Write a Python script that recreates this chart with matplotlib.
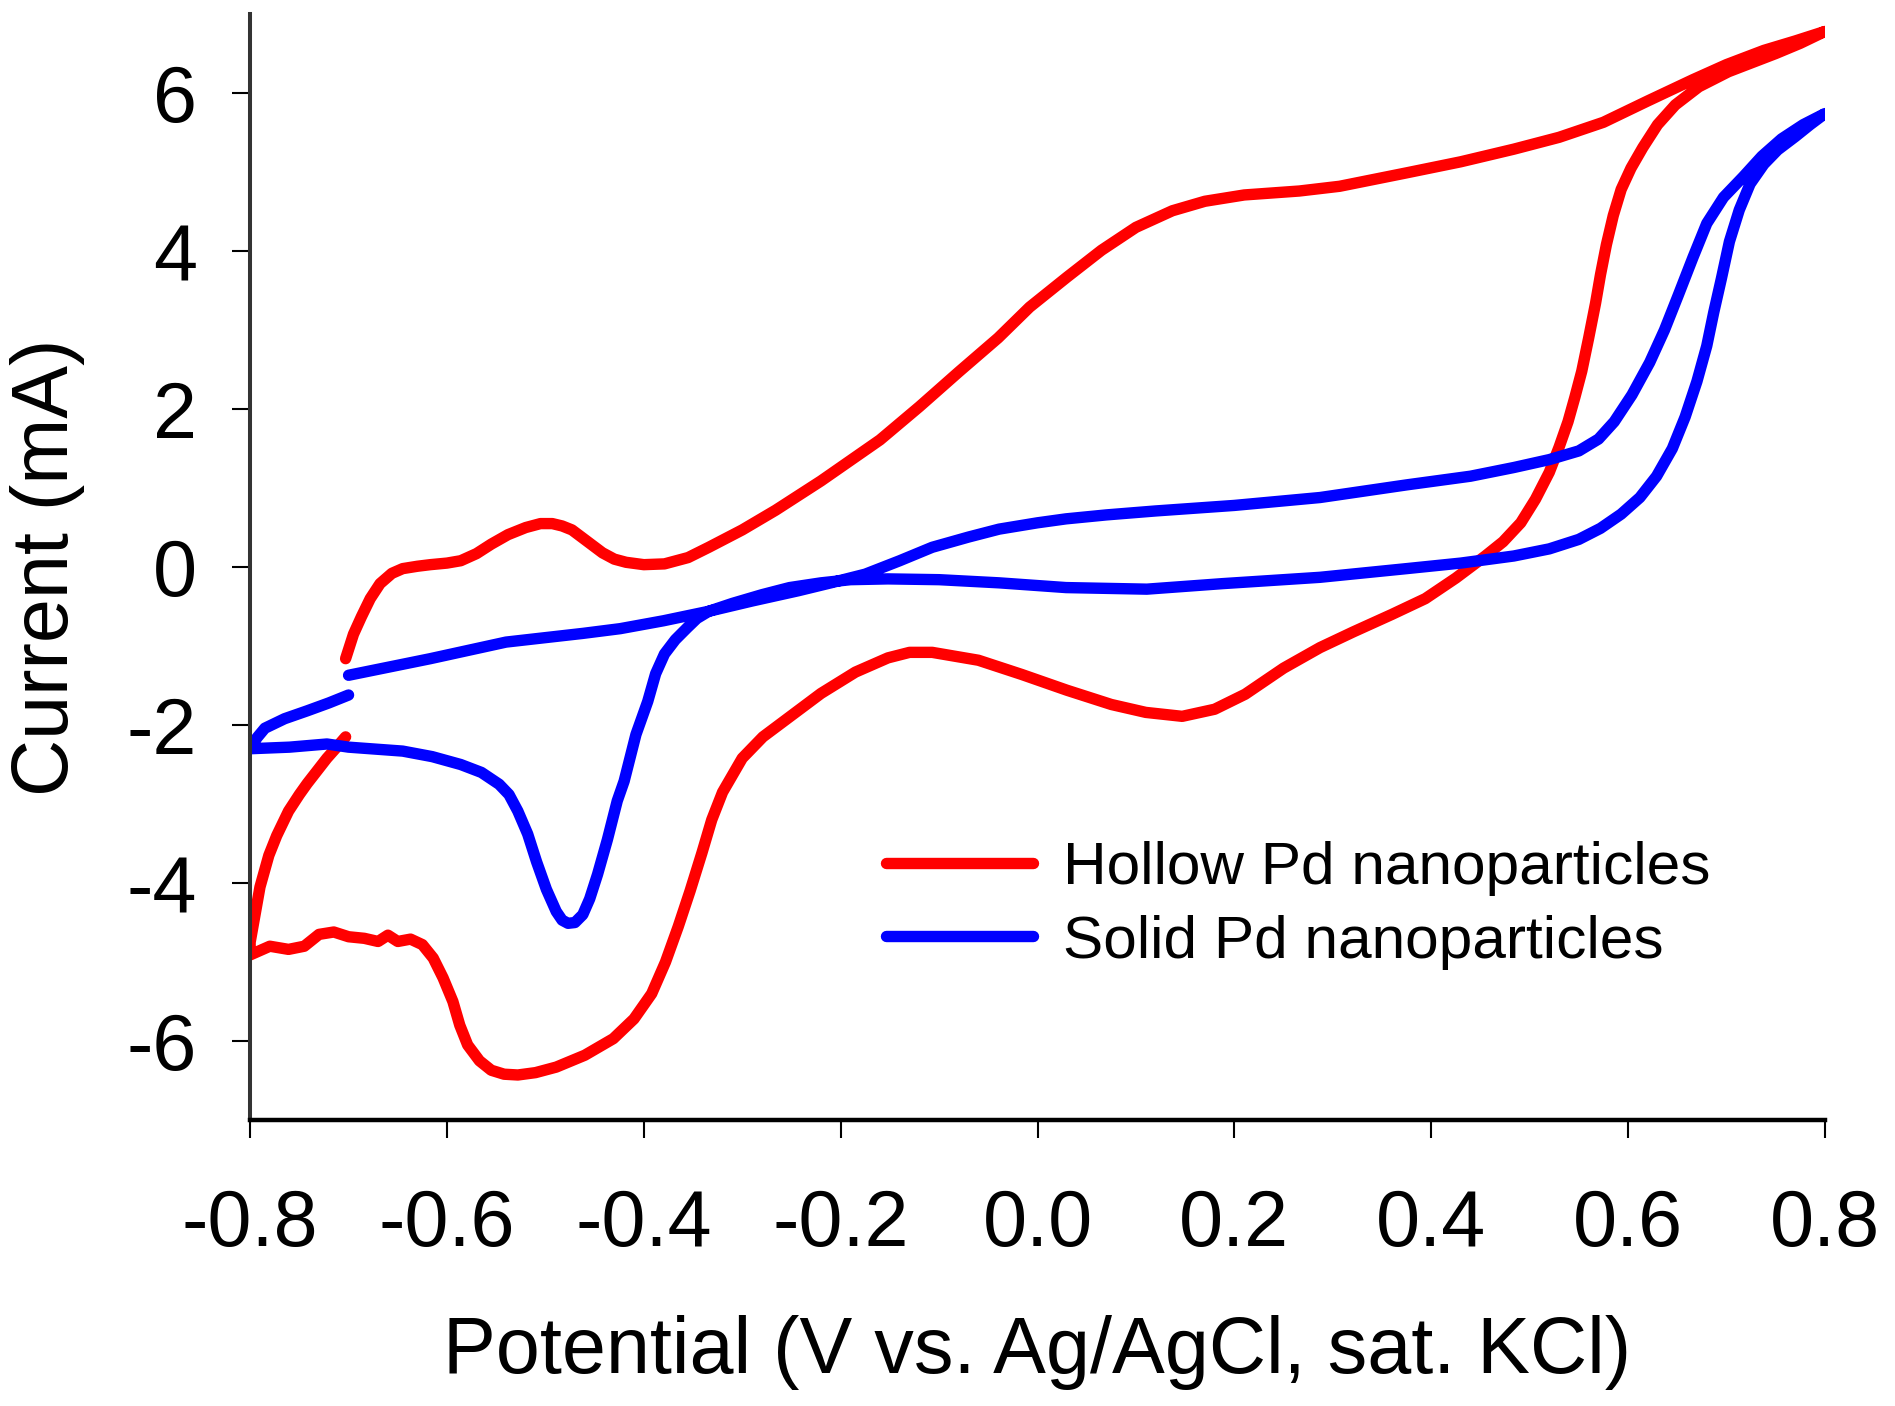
import matplotlib
matplotlib.use("Agg")
import matplotlib.pyplot as plt

plt.rcParams['font.family'] = ['Liberation Sans', 'DejaVu Sans']
plt.rcParams['axes.unicode_minus'] = False

# Hollow Pd nanoparticles: potential (V) and current (mA), in scan order
hollow_v = [-0.703, -0.695, -0.687, -0.678, -0.668, -0.656, -0.645, -0.630, -0.617, -0.600,
            -0.586, -0.570, -0.555, -0.538, -0.520, -0.505, -0.493, -0.483, -0.473, -0.458,
            -0.442, -0.430, -0.418, -0.400, -0.379, -0.355, -0.334, -0.300, -0.266, -0.220,
            -0.160, -0.120, -0.080, -0.040, -0.008, 0.030, 0.065, 0.100, 0.137, 0.170,
            0.210, 0.266, 0.307, 0.375, 0.430, 0.484, 0.530, 0.575, 0.620, 0.666,
            0.700, 0.738, 0.770, 0.800,
            0.775, 0.750, 0.725, 0.702, 0.672, 0.648, 0.630, 0.615, 0.603, 0.593,
            0.585, 0.578, 0.572, 0.567, 0.560, 0.553, 0.546, 0.539, 0.530, 0.520,
            0.506, 0.491, 0.473, 0.455, 0.425, 0.394, 0.360, 0.321, 0.287, 0.250,
            0.211, 0.180, 0.147, 0.110, 0.075, 0.030, -0.016, -0.060, -0.107, -0.130,
            -0.152, -0.185, -0.220, -0.250, -0.279, -0.300, -0.320, -0.331, -0.341, -0.353,
            -0.365, -0.378, -0.392, -0.410, -0.431, -0.460, -0.489, -0.510, -0.528, -0.542,
            -0.555, -0.567, -0.579, -0.587, -0.594, -0.604, -0.614, -0.625, -0.637, -0.650,
            -0.660, -0.670, -0.684, -0.700, -0.715, -0.730, -0.745, -0.761, -0.780, -0.800,
            -0.800, -0.795, -0.790, -0.781, -0.773, -0.761, -0.750, -0.742, -0.732, -0.722,
            -0.712, -0.703]
hollow_i = [-1.16, -0.85, -0.63, -0.40, -0.21, -0.08, -0.02, 0.01, 0.03, 0.05,
            0.08, 0.17, 0.29, 0.41, 0.50, 0.55, 0.55, 0.52, 0.47, 0.33,
            0.18, 0.10, 0.06, 0.03, 0.04, 0.12, 0.25, 0.47, 0.72, 1.09,
            1.61, 2.03, 2.47, 2.90, 3.29, 3.67, 4.01, 4.30, 4.51, 4.63,
            4.71, 4.76, 4.82, 4.99, 5.13, 5.29, 5.44, 5.63, 5.90, 6.17,
            6.36, 6.54, 6.66, 6.78,
            6.63, 6.50, 6.38, 6.27, 6.08, 5.85, 5.60, 5.31, 5.05, 4.78,
            4.45, 4.08, 3.70, 3.34, 2.90, 2.48, 2.15, 1.84, 1.52, 1.20,
            0.86, 0.56, 0.32, 0.14, -0.14, -0.40, -0.60, -0.82, -1.02, -1.28,
            -1.61, -1.80, -1.89, -1.84, -1.74, -1.56, -1.36, -1.18, -1.08, -1.08,
            -1.15, -1.33, -1.60, -1.88, -2.15, -2.42, -2.85, -3.20, -3.62, -4.10,
            -4.55, -5.00, -5.40, -5.72, -5.97, -6.18, -6.33, -6.40, -6.43, -6.42,
            -6.37, -6.25, -6.05, -5.80, -5.50, -5.20, -4.95, -4.78, -4.71, -4.74,
            -4.66, -4.74, -4.70, -4.68, -4.62, -4.65, -4.80, -4.84, -4.80, -4.91,
            -4.75, -4.40, -4.05, -3.65, -3.40, -3.09, -2.88, -2.74, -2.58, -2.42,
            -2.28, -2.15]

# Solid Pd nanoparticles
solid_v = [-0.700, -0.617, -0.540, -0.462, -0.424, -0.380, -0.334, -0.290, -0.243, -0.210,
           -0.175, -0.140, -0.107, -0.070, -0.039, 0.000, 0.029, 0.070, 0.120, 0.200,
           0.287, 0.375, 0.440, 0.484, 0.520, 0.550, 0.570, 0.586, 0.604, 0.622,
           0.637, 0.651, 0.666, 0.680, 0.697, 0.717, 0.736, 0.756, 0.778, 0.800,
           0.785, 0.770, 0.752, 0.738, 0.724, 0.713, 0.703, 0.695, 0.687, 0.680,
           0.670, 0.658, 0.645, 0.629, 0.612, 0.593, 0.572, 0.550, 0.520, 0.484,
           0.430, 0.375, 0.287, 0.188, 0.111, 0.029, -0.039, -0.100, -0.152, -0.190,
           -0.220, -0.252, -0.280, -0.310, -0.334, -0.346, -0.356, -0.368, -0.379, -0.388,
           -0.396, -0.408, -0.420, -0.427, -0.437, -0.447, -0.455, -0.462, -0.470, -0.477,
           -0.483, -0.489, -0.499, -0.509, -0.518, -0.528, -0.537, -0.547, -0.565, -0.586,
           -0.615, -0.645, -0.700, -0.722, -0.760, -0.800,
           -0.793, -0.785, -0.765, -0.742, -0.720, -0.700]
solid_i = [-1.37, -1.16, -0.95, -0.84, -0.78, -0.68, -0.56, -0.43, -0.30, -0.20,
           -0.09, 0.08, 0.25, 0.38, 0.48, 0.56, 0.61, 0.66, 0.71, 0.78,
           0.88, 1.04, 1.15, 1.26, 1.36, 1.47, 1.62, 1.84, 2.18, 2.59,
           3.00, 3.44, 3.92, 4.35, 4.68, 4.94, 5.20, 5.42, 5.60, 5.74,
           5.60, 5.45, 5.28, 5.10, 4.85, 4.52, 4.12, 3.66, 3.22, 2.80,
           2.35, 1.90, 1.50, 1.15, 0.88, 0.67, 0.49, 0.35, 0.23, 0.14,
           0.05, -0.02, -0.13, -0.21, -0.28, -0.26, -0.20, -0.16, -0.15, -0.16,
           -0.20, -0.26, -0.35, -0.46, -0.56, -0.65, -0.77, -0.92, -1.10, -1.35,
           -1.70, -2.12, -2.71, -2.96, -3.45, -3.89, -4.20, -4.40, -4.50, -4.51,
           -4.47, -4.36, -4.08, -3.73, -3.38, -3.09, -2.88, -2.75, -2.60, -2.50,
           -2.40, -2.33, -2.28, -2.24, -2.28, -2.30,
           -2.16, -2.04, -1.92, -1.82, -1.72, -1.62]

x_ticks = [-0.8, -0.6, -0.4, -0.2, 0.0, 0.2, 0.4, 0.6, 0.8]
y_ticks = [-6, -4, -2, 0, 2, 4, 6]

fig = plt.figure(figsize=(18.95, 14.06), dpi=100)
ax = fig.add_axes([0.132, 0.2034, 0.831, 0.7866])

ax.plot(hollow_v, hollow_i, color='#ff0000', lw=8.2, solid_joinstyle='round',
        solid_capstyle='round', label='Hollow Pd nanoparticles')
ax.plot(solid_v, solid_i, color='#0000ff', lw=8.2, solid_joinstyle='round',
        solid_capstyle='round', label='Solid Pd nanoparticles')

ax.set_xlim(-0.8, 0.8)
ax.set_ylim(-7, 7)
ax.set_xticks(x_ticks)
ax.set_xticklabels(['%.1f' % v for v in x_ticks])
ax.set_yticks(y_ticks)

for s in ['top', 'right']:
    ax.spines[s].set_visible(False)
ax.spines['left'].set_linewidth(2.9)
ax.spines['left'].set_color('#333333')
ax.spines['bottom'].set_linewidth(3.2)
ax.spines['bottom'].set_color('black')

ax.tick_params(axis='both', direction='out', length=13, width=1.5, labelsize=57)
ax.tick_params(axis='x', pad=36)
ax.tick_params(axis='y', pad=25)

ax.set_xlabel('Potential (V vs. Ag/AgCl, sat. KCl)', fontsize=57)
ax.set_ylabel('Current (mA)', fontsize=57)
ax.xaxis.set_label_coords(0.5, -0.176)
ax.yaxis.set_label_coords(-0.105, 0.5)

ax.legend(loc='center left', bbox_to_anchor=(0.404, 0.194), frameon=False,
          fontsize=43.5, handlelength=2.43, handletextpad=0.5, labelspacing=0.3,
          borderpad=0, borderaxespad=0)

fig.savefig('out.png', dpi=100)
